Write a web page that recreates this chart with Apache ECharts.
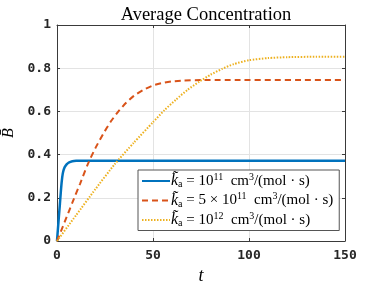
<!DOCTYPE html>
<html><head><meta charset="utf-8">
<script src="https://cdn.jsdelivr.net/npm/echarts@6/dist/echarts.min.js"></script>
<style>html,body{margin:0;padding:0;background:#fff}#c{width:382px;height:287px}</style>
</head><body><div id="c"></div>
<script>
const blueT = [0, 0.5, 1, 1.5, 2, 2.5, 3, 3.5, 4, 5, 6, 7, 8, 10, 13, 150];
const blueV = [0, 0.058, 0.115, 0.17, 0.228, 0.278, 0.312, 0.330, 0.342, 0.355, 0.362, 0.366, 0.369, 0.371, 0.372, 0.372];
const redT = [0, 4, 8, 12, 16, 20, 24, 28, 32, 36, 40, 45, 50, 55, 60, 66, 75, 150];
const redV = [0, 0.088, 0.178, 0.265, 0.355, 0.43, 0.495, 0.553, 0.60, 0.64, 0.672, 0.70, 0.72, 0.732, 0.739, 0.743, 0.745, 0.745];
const yelT = [0, 10, 20, 30, 40, 50, 56, 62, 68, 74, 80, 86, 92, 100, 110, 120, 135, 150];
const yelV = [0, 0.12, 0.24, 0.355, 0.455, 0.55, 0.606, 0.655, 0.70, 0.737, 0.77, 0.797, 0.819, 0.837, 0.847, 0.851, 0.853, 0.853];
const xTicks = [0, 50, 100, 150];
const yTicks = [0, 0.2, 0.4, 0.6, 0.8, 1];
const seriesNames = ['k1', 'k2', 'k3'];
const legendTexts = {
  k1: '{k|k\u0303}{sub|a}{t| = 10}{sup|11}{t|  cm}{sup|3}{t|/(mol \u00b7 s)}',
  k2: '{k|k\u0303}{sub|a}{t| = 5 \u00d7 10}{sup|11}{t|  cm}{sup|3}{t|/(mol \u00b7 s)}',
  k3: '{k|k\u0303}{sub|a}{t| = 10}{sup|12}{t|  cm}{sup|3}{t|/(mol \u00b7 s)}'
};
const colors = ['#0072BD', '#D95319', '#EDB120'];
const pair = (t, v) => t.map((x, i) => [x, v[i]]);
const serif = 'Liberation Serif';
const tickFont = {fontFamily: 'DejaVu Sans Mono', fontWeight: 'bold', fontSize: 13, color: '#262626'};
const axisLineStyle = {color: '#3a3a3a', width: 1};
const chart = echarts.init(document.getElementById('c'));
chart.setOption({
  animation: false,
  title: {text: 'Average Concentration', left: 201, textAlign: 'center', top: 1,
    textStyle: {fontFamily: serif, fontSize: 18.5, fontWeight: 'normal', color: '#000'}},
  grid: {left: 57, right: 37, top: 25, bottom: 46, containLabel: false, outerBoundsMode: 'none'},
  legend: {
    orient: 'vertical', left: 138, top: 170, itemWidth: 28, itemHeight: 10, itemGap: 2,
    padding: [2, 6, 2, 3], backgroundColor: '#fff', borderColor: '#555', borderWidth: 1,
    data: seriesNames,
    itemStyle: {opacity: 0},
    formatter: n => legendTexts[n],
    textStyle: {fontFamily: serif, fontSize: 15, color: '#000', padding: [0,0,0,-4],
      rich: {
        k: {fontFamily: serif, fontStyle: 'italic', fontSize: 16, color: '#000', height: 19},
        sub: {fontFamily: serif, fontSize: 10, color: '#000', padding: [7, 0, 0, 0]},
        sup: {fontFamily: serif, fontSize: 10, color: '#000', padding: [0, 0, 8, 0]},
        t: {fontFamily: serif, fontSize: 15, color: '#000'}
      }}
  },
  xAxis: [{
    type: 'value', min: 0, max: 150, interval: 50,
    name: 't', nameLocation: 'middle', nameGap: 26,
    nameTextStyle: {fontFamily: serif, fontStyle: 'italic', fontSize: 18, color: '#000'},
    axisLine: {show: true, lineStyle: axisLineStyle},
    axisTick: {show: true, inside: true, length: 3, lineStyle: axisLineStyle},
    axisLabel: Object.assign({margin: 8, formatter: v => xTicks.includes(v) ? String(v) : ''}, tickFont),
    splitLine: {show: true, lineStyle: {color: '#e3e3e3', width: 1}}
  }, {
    type: 'value', min: 0, max: 150, interval: 50, position: 'top',
    axisLine: {show: true, onZero: false, lineStyle: axisLineStyle},
    axisTick: {show: true, inside: true, length: 3, lineStyle: axisLineStyle},
    axisLabel: {show: false}, splitLine: {show: false}
  }],
  yAxis: [{
    type: 'value', min: 0, max: 1, interval: 0.2,
    name: 'B\u0304', nameLocation: 'middle', nameGap: 35, nameRotate: 90,
    nameTextStyle: {fontFamily: serif, fontStyle: 'italic', fontSize: 16, color: '#000'},
    axisLine: {show: true, lineStyle: axisLineStyle},
    axisTick: {show: true, inside: true, length: 3, lineStyle: axisLineStyle},
    axisLabel: Object.assign({margin: 6, formatter: v => {
      const r = Math.round(v * 10) / 10; return yTicks.some(y => Math.abs(y - r) < 1e-9) ? (r === 0 || r === 1 ? String(r) : r.toFixed(1)) : '';
    }}, tickFont),
    splitLine: {show: true, lineStyle: {color: '#e3e3e3', width: 1}}
  }, {
    type: 'value', min: 0, max: 1, interval: 0.2, position: 'right',
    axisLine: {show: true, onZero: false, lineStyle: axisLineStyle},
    axisTick: {show: true, inside: true, length: 3, lineStyle: axisLineStyle},
    axisLabel: {show: false}, splitLine: {show: false}
  }],
  series: [
    {name: 'k1', type: 'line', data: pair(blueT, blueV), showSymbol: false, symbol: 'none', smooth: 0.2,
     lineStyle: {color: colors[0], width: 2.5}, itemStyle: {color: colors[0]}},
    {name: 'k2', type: 'line', data: pair(redT, redV), showSymbol: false, symbol: 'none', smooth: 0.2,
     lineStyle: {color: colors[1], width: 2, type: [6, 4]}, itemStyle: {color: colors[1]}},
    {name: 'k3', type: 'line', data: pair(yelT, yelV), showSymbol: false, symbol: 'none', smooth: 0.2,
     lineStyle: {color: colors[2], width: 2, type: [1.5, 1.5]}, itemStyle: {color: colors[2]}}
  ]
});
</script></body></html>
